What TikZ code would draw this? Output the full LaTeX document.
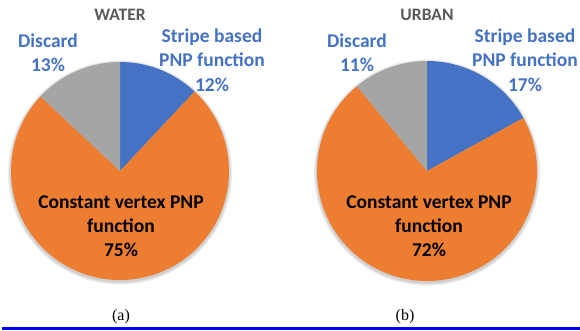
\documentclass[tikz,border=0pt]{standalone}
\usepackage{fontspec}
\setmainfont{Carlito}
\newfontfamily\capfont{Liberation Serif}
\definecolor{sliceblue}{HTML}{4472C4}
\definecolor{sliceorange}{HTML}{ED7D31}
\definecolor{slicegray}{HTML}{A5A5A5}
\definecolor{titlegray}{HTML}{595959}
\tikzset{
  charttitle/.style={font=\fontsize{17.5}{20}\selectfont\bfseries, text=titlegray},
  outlabel/.style={font=\fontsize{19.5}{24.5}\selectfont\bfseries, text=sliceblue, align=center},
  inlabel/.style={font=\fontsize{19.5}{24}\selectfont\bfseries, text=black, align=center},
  caption/.style={font=\capfont\fontsize{16}{18}\selectfont},
  pieshadow/.style={fill=black, opacity=0.05}
}
% pie chart: centre, radius, and the three boundary angles (clockwise from the top)
\newcommand{\pienode}[5]{%
  \foreach \k in {1,...,4}{\fill[pieshadow] ($(#1)+(0,-1.5)$) circle[radius=#2+\k*0.8];}
  \fill[sliceblue] (#1) -- ++(90:#2) arc[start angle=90, end angle=#3, radius=#2] -- cycle;
  \fill[sliceorange] (#1) -- ++(#3:#2) arc[start angle=#3, end angle=#4, radius=#2] -- cycle;
  \fill[slicegray] (#1) -- ++(#5:#2) arc[start angle=#5, end angle=90, radius=#2] -- cycle;
}
\usetikzlibrary{calc}
\begin{document}
\begin{tikzpicture}[x=1pt,y=1pt]
\useasboundingbox (0,0) rectangle (580,330);
\coordinate (cA) at (120,159);
\coordinate (cB) at (427,159);

% water chart: 12% stripe, 75% constant vertex, 13% discard
\pienode{cA}{109}{46.8}{-223.2}{136.8}
% urban chart: 17% stripe, 72% constant vertex, 11% discard
\pienode{cB}{110}{28.8}{-230.4}{129.6}

\node[charttitle] (tA) at (120,315) {WATER};
\node[charttitle] (tB) at (427,315) {URBAN};

\node[outlabel] (dA) at (48,277.5) {Discard\\13\%};
\node[outlabel] (sA) at (212,270) {Stripe based\\PNP function\\12\%};
\node[outlabel] (dB) at (357,277.5) {Discard\\11\%};
\node[outlabel] (sB) at (525,270) {Stripe based\\PNP function\\17\%};

\node[inlabel] (kA) at (121,104) {Constant vertex PNP\\function\\75\%};
\node[inlabel] (kB) at (429,104) {Constant vertex PNP\\function\\72\%};

\node[caption] (capA) at (121,13) {(a)};
\node[caption] (capB) at (405,13) {(b)};

\fill[blue] (2,0) rectangle (580,3);
\end{tikzpicture}
\end{document}
